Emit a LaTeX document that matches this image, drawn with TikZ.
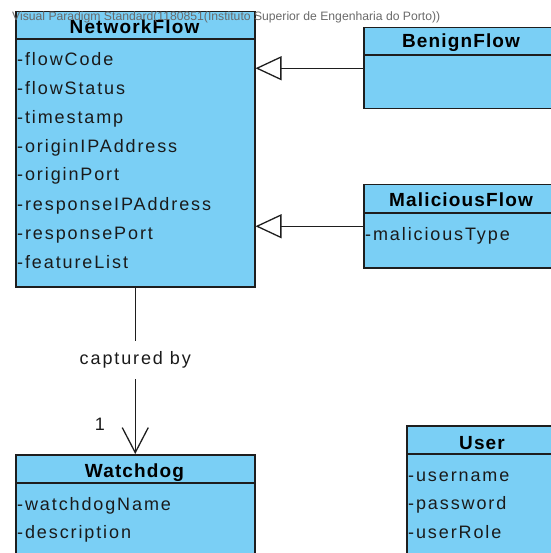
\documentclass[tikz,border=0pt]{standalone}
\usepackage{graphicx}
\usepackage{fontspec}
\setmainfont{Liberation Sans}
\newfontfamily\attrfont{Liberation Sans}[LetterSpace=10.5]
\newfontfamily\titlefont{Liberation Sans}[LetterSpace=6]
\usetikzlibrary{arrows.meta}
\definecolor{classfill}{HTML}{7ACFF5}
\definecolor{classline}{HTML}{1E1E1E}
\definecolor{textdark}{HTML}{1A1A1A}
\definecolor{wmgray}{HTML}{6A6A6A}
\begin{document}
\begin{tikzpicture}[x=1pt,y=-1pt,
  classbox/.style={draw=classline, fill=classfill, line width=1.5pt, anchor=north west, inner sep=0pt},
  classtitle/.style={anchor=base, font=\titlefont\bfseries\fontsize{19}{22}\selectfont, text=black, inner sep=0pt},
  attr/.style={anchor=base west, font=\attrfont\fontsize{18}{20}\selectfont, text=textdark, inner sep=0pt},
  divider/.style={draw=classline, line width=1.5pt},
  gen/.style={draw=classline, line width=1.3pt, -{Triangle[open, length=26pt, width=24pt]}},
  assoc/.style={draw=classline, line width=1.3pt, -{Straight Barb[length=25pt, width=26pt]}}]
\useasboundingbox (0,0) rectangle (550,553);

% NetworkFlow
\node[classbox, minimum width=239pt, minimum height=275pt] (nf) at (15,11) {};
\draw[divider] (15,39) -- (254,39);
\node[classtitle] (nft) at (134.5,34) {NetworkFlow};
\node[attr] (nf1) at (17,66) {-flowCode};
\node[attr] (nf2) at (17,95) {-flowStatus};
\node[attr] (nf3) at (17,124) {-timestamp};
\node[attr] (nf4) at (17,153) {-originIPAddress};
\node[attr] (nf5) at (17,181) {-originPort};
\node[attr] (nf6) at (17,210) {-responseIPAddress};
\node[attr] (nf7) at (17,239) {-responsePort};
\node[attr] (nf8) at (17,268) {-featureList};

% BenignFlow
\node[classbox, minimum width=196pt, minimum height=81pt] (bf) at (363,27) {};
\draw[divider] (363,55) -- (559,55);
\node[classtitle] (bft) at (461,48) {BenignFlow};

% MaliciousFlow
\node[classbox, minimum width=196pt, minimum height=83pt] (mf) at (363,184) {};
\draw[divider] (363,213) -- (559,213);
\node[classtitle] (mft) at (461,207) {MaliciousFlow};
\node[attr] (mf1) at (365,240) {-maliciousType};

% Watchdog
\node[classbox, minimum width=239pt, minimum height=110pt] (wd) at (15,454) {};
\draw[divider] (15,483) -- (254,483);
\node[classtitle] (wdt) at (134.5,477) {Watchdog};
\node[attr] (wd1) at (17,510) {-watchdogName};
\node[attr] (wd2) at (17,538) {-description};

% User
\node[classbox, minimum width=152pt, minimum height=140pt] (us) at (406,425) {};
\draw[divider] (406,454) -- (558,454);
\node[classtitle] (ust) at (482,449) {User};
\node[attr] (us1) at (408,481) {-username};
\node[attr] (us2) at (408,509) {-password};
\node[attr] (us3) at (408,538) {-userRole};

% Generalizations
\draw[gen] (bf.west) -- (bf.west -| nf.east);
\draw[gen] (mf.west) -- (mf.west -| nf.east);

% Association
\draw[assoc] (nf.south) -- node[pos=0.435, fill=white, inner xsep=2pt, inner ysep=10.5pt, font=\attrfont\fontsize{18}{20}\selectfont, text=textdark] (cap) {captured by} (wd.north);
\node[attr, anchor=center] (mult) at (100,424) {1};

% Watermark
\node[anchor=base west, inner sep=0pt, text=wmgray] (wm) at (12,21) {\resizebox{428pt}{!}{\fontsize{10}{12}\selectfont Visual Paradigm Standard(1180851(Instituto Superior de Engenharia do Porto))}};
\end{tikzpicture}
\end{document}
